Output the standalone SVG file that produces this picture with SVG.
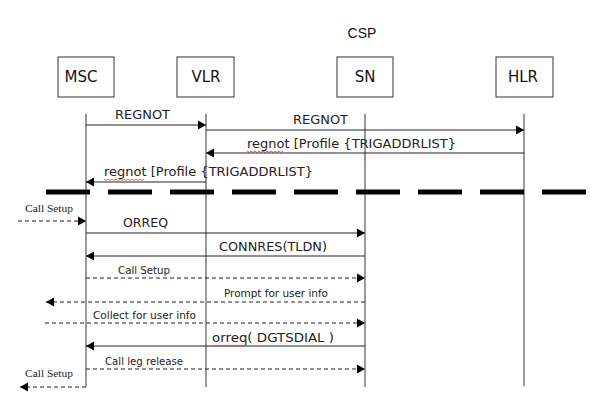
<svg xmlns="http://www.w3.org/2000/svg" width="596" height="409" viewBox="0 0 596 409">
<style>
.box{fill:#fff;stroke:#333;stroke-width:1}
.life{stroke:#555;stroke-width:1.2;fill:none}
.msg{stroke:#222;stroke-width:1;fill:none}
.dash{stroke:#222;stroke-width:1;fill:none;stroke-dasharray:4 3}
.big{stroke:#000;stroke-width:5;fill:none;stroke-dasharray:44 18}
.t{font-family:"DejaVu Sans","Liberation Sans",sans-serif;fill:#222}
.n{font-family:"DejaVu Sans","Liberation Sans",sans-serif;fill:#111;font-size:15px;text-anchor:middle}
.m{font-size:12px}
.s{font-size:10px}
.ser{font-family:"Liberation Serif","DejaVu Serif",serif;font-size:10px;fill:#222}
.sq{stroke:#d33;stroke-width:0.8;fill:none}
</style>
<defs>
<marker id="ah" markerUnits="userSpaceOnUse" markerWidth="9" markerHeight="10" refX="8" refY="5" orient="auto">
<path d="M0,0.5 L8,5 L0,9.5 Z" fill="#000"/>
</marker>
</defs>
<text x="362" y="38" font-family="Liberation Sans, Arial, sans-serif" font-size="14" text-anchor="middle" fill="#111">CSP</text>
<g id="MSC"><rect class="box" x="58" y="57" width="56" height="40"/><text class="n" x="81" y="82">MSC</text><line class="life" x1="86" y1="114" x2="86" y2="387"/></g>
<g id="VLR"><rect class="box" x="177" y="57" width="57" height="40"/><text class="n" x="206" y="82">VLR</text><line class="life" x1="206" y1="114" x2="206" y2="387"/></g>
<g id="SN"><rect class="box" x="337" y="57" width="56" height="40"/><text class="n" x="365" y="82">SN</text><line class="life" x1="365" y1="114" x2="365" y2="387"/></g>
<g id="HLR"><rect class="box" x="496" y="57" width="57" height="40"/><text class="n" x="523" y="82">HLR</text><line class="life" x1="524" y1="114" x2="524" y2="386"/></g>
<g id="connectors">
<line class="msg" x1="86" y1="125" x2="206" y2="125" marker-end="url(#ah)"/>
<line class="msg" x1="206" y1="130" x2="524" y2="130" marker-end="url(#ah)"/>
<line class="msg" x1="524" y1="153" x2="206" y2="153" marker-end="url(#ah)"/>
<line class="msg" x1="206" y1="182" x2="86" y2="182" marker-end="url(#ah)"/>
<line class="big" x1="46" y1="192" x2="590" y2="192"/>
<line class="dash" x1="18" y1="221" x2="86" y2="221" marker-end="url(#ah)"/>
<line class="msg" x1="86" y1="233" x2="365" y2="233" marker-end="url(#ah)"/>
<line class="msg" x1="365" y1="256" x2="86" y2="256" marker-end="url(#ah)"/>
<line class="dash" x1="86" y1="278" x2="365" y2="278" marker-end="url(#ah)"/>
<line class="dash" x1="365" y1="302" x2="46" y2="302" marker-end="url(#ah)"/>
<line class="dash" x1="45" y1="323" x2="365" y2="323" marker-end="url(#ah)"/>
<line class="msg" x1="365" y1="346" x2="86" y2="346" marker-end="url(#ah)"/>
<line class="dash" x1="86" y1="369" x2="365" y2="369" marker-end="url(#ah)"/>
<line class="dash" x1="86" y1="387" x2="20" y2="387" marker-end="url(#ah)"/>
</g>
<g id="labels">
<text class="t m" x="115" y="119" textLength="55" lengthAdjust="spacingAndGlyphs">REGNOT</text>
<text class="t m" x="293" y="124" textLength="55" lengthAdjust="spacingAndGlyphs">REGNOT</text>
<text class="t m" x="247" y="148" textLength="209" lengthAdjust="spacingAndGlyphs">regnot [Profile {TRIGADDRLIST}</text>
<text class="t m" x="104" y="176" textLength="209" lengthAdjust="spacingAndGlyphs">regnot [Profile {TRIGADDRLIST}</text>
<text class="ser" x="25" y="212" textLength="48" lengthAdjust="spacingAndGlyphs">Call Setup</text>
<text class="t m" x="123" y="227" textLength="45" lengthAdjust="spacingAndGlyphs">ORREQ</text>
<text class="t m" x="219" y="251" textLength="108" lengthAdjust="spacingAndGlyphs">CONNRES(TLDN)</text>
<text class="t s" x="118" y="274" textLength="52" lengthAdjust="spacingAndGlyphs">Call Setup</text>
<text class="t s" x="224" y="297" textLength="104" lengthAdjust="spacingAndGlyphs">Prompt for user info</text>
<text class="t s" x="93" y="319" textLength="103" lengthAdjust="spacingAndGlyphs">Collect for user info</text>
<text class="t m" x="212" y="342" textLength="122" lengthAdjust="spacingAndGlyphs">orreq( DGTSDIAL )</text>
<text class="t s" x="105" y="365" textLength="78" lengthAdjust="spacingAndGlyphs">Call leg release</text>
<text class="ser" x="25" y="377" textLength="48" lengthAdjust="spacingAndGlyphs">Call Setup</text>
<path class="sq" d="M247,151 l2,1.5 l2,-1.5 l2,1.5 l2,-1.5 l2,1.5 l2,-1.5 l2,1.5 l2,-1.5 l2,1.5 l2,-1.5 l2,1.5 l2,-1.5 l2,1.5 l2,-1.5 l2,1.5 l2,-1.5 l2,1.5 l2,-1.5"/>
<path class="sq" d="M104,179 l2,1.5 l2,-1.5 l2,1.5 l2,-1.5 l2,1.5 l2,-1.5 l2,1.5 l2,-1.5 l2,1.5 l2,-1.5 l2,1.5 l2,-1.5 l2,1.5 l2,-1.5 l2,1.5 l2,-1.5 l2,1.5 l2,-1.5 l2,1.5 l2,-1.5"/>
<path class="sq" d="M212,345 l2,1.5 l2,-1.5 l2,1.5 l2,-1.5 l2,1.5 l2,-1.5 l2,1.5 l2,-1.5 l2,1.5 l2,-1.5 l2,1.5 l2,-1.5 l2,1.5 l2,-1.5 l2,1.5 l2,-1.5 l2,1.5"/>
</g>
</svg>
